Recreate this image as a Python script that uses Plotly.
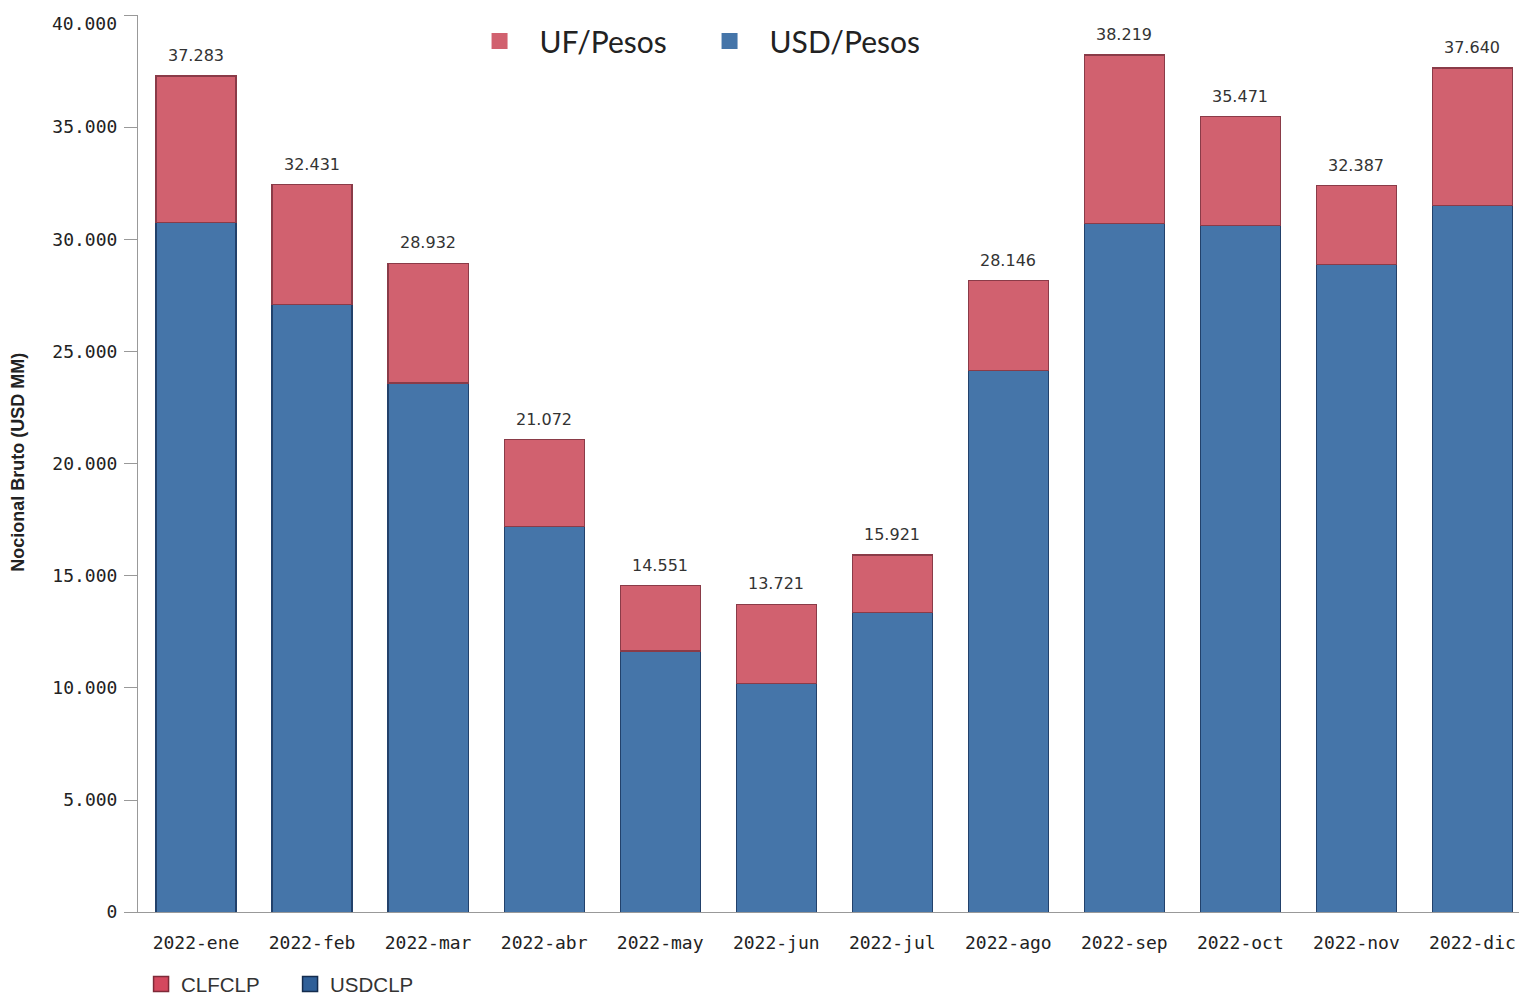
import plotly.graph_objects as go

categories = ["2022-ene", "2022-feb", "2022-mar", "2022-abr", "2022-may", "2022-jun",
              "2022-jul", "2022-ago", "2022-sep", "2022-oct", "2022-nov", "2022-dic"]
totals = [37283, 32431, 28932, 21072, 14551, 13721, 15921, 28146, 38219, 35471, 32387, 37640]
usdclp = [30750, 27080, 23590, 17210, 11640, 10190, 13360, 24160, 30710, 30620, 28890, 31500]
clfclp = [t - u for t, u in zip(totals, usdclp)]
y_ticks = [0, 5000, 10000, 15000, 20000, 25000, 30000, 35000, 40000]


def fmt(v):
    return f"{v:,}".replace(",", ".")


# the top tick label sits slightly below its tick in the reference; it is drawn as an annotation
y_ticktext = [fmt(v) for v in y_ticks[:-1]] + [""]

BLUE = "#4575a9"
PINK = "#d1616f"

fig = go.Figure()
fig.add_trace(go.Bar(x=categories, y=usdclp, name="USDCLP", marker=dict(color=BLUE, line=dict(color="#22416b", width=1.2)),
                     showlegend=False, hoverinfo="x+y"))
fig.add_trace(go.Bar(x=categories, y=clfclp, name="CLFCLP", marker=dict(color=PINK, line=dict(color="#8a3b48", width=1.2)),
                     showlegend=False, hoverinfo="x+y"))

# top legend
fig.add_trace(go.Scatter(x=[None], y=[None], mode="markers", name="UF/Pesos",
                         marker=dict(symbol="square", size=16, color=PINK), legend="legend"))
fig.add_trace(go.Scatter(x=[None], y=[None], mode="markers", name="USD/Pesos",
                         marker=dict(symbol="square", size=16, color=BLUE), legend="legend"))
# bottom legend
fig.add_trace(go.Scatter(x=[None], y=[None], mode="markers", name="CLFCLP",
                         marker=dict(symbol="square", size=15, color="#d4485e", line=dict(color="#7e2a38", width=1.5)), legend="legend2"))
fig.add_trace(go.Scatter(x=[None], y=[None], mode="markers", name="USDCLP",
                         marker=dict(symbol="square", size=15, color="#2f5f98", line=dict(color="#142c4e", width=1.5)), legend="legend2"))

for c, t in zip(categories, totals):
    fig.add_annotation(x=c, y=t, text=fmt(t), showarrow=False,
                       yanchor="bottom", yshift=9, font=dict(family="DejaVu Sans", size=16, color="#333"))

fig.add_annotation(text=fmt(y_ticks[-1]), xref="paper", yref="y", x=0, y=y_ticks[-1],
                   xanchor="right", yanchor="middle", xshift=-19, yshift=-8, showarrow=False,
                   font=dict(family="DejaVu Sans Mono", size=18, color="#222"))

fig.add_annotation(text="<b>Nocional Bruto (USD MM)</b>", xref="paper", yref="paper", x=0, y=0.501,
                   xanchor="center", yanchor="middle", xshift=-120, textangle=-90, showarrow=False,
                   font=dict(family="Liberation Sans", size=18, color="#222"))

# page body has an 8px default margin: figure is sized/placed to fill the 1527x996 window
fig.update_layout(
    width=1519, height=988,
    barmode="stack", bargap=0.31,
    plot_bgcolor="white", paper_bgcolor="white",
    separators=",.",
    margin=dict(l=130, r=0, t=7, b=79),
    font=dict(family="DejaVu Sans Mono", color="#333"),
    legend=dict(orientation="h", x=0.2315, y=1.0, xanchor="left", yanchor="top", traceorder="normal",
                font=dict(family="Lato", size=30, color="#222"), itemwidth=70, bgcolor="rgba(0,0,0,0)",
                entrywidth=145, entrywidthmode="pixels"),
    legend2=dict(orientation="h", x=0.0876, xref="container", y=0.012, yref="container",
                 xanchor="left", yanchor="middle", traceorder="normal",
                 font=dict(family="Liberation Sans", size=20.5, color="#333"), itemwidth=30, bgcolor="rgba(0,0,0,0)",
                 entrywidth=104, entrywidthmode="pixels"),
    xaxis=dict(type="category", range=[-0.5, 11.47], showline=True, linecolor="#999", linewidth=1,
               ticks="", ticklabelstandoff=14, automargin=False,
               tickfont=dict(family="DejaVu Sans Mono", size=18, color="#222"), showgrid=False),
    yaxis=dict(range=[0, 40000], tickmode="array", tickvals=y_ticks, ticktext=y_ticktext,
               showgrid=False, zeroline=False,
               showline=True, linecolor="#999", linewidth=1, ticks="outside", ticklen=13, tickcolor="#999",
               ticklabelstandoff=3, automargin=False,
               tickfont=dict(family="DejaVu Sans Mono", size=18, color="#222")),
)

fig.write_html("out.html")
